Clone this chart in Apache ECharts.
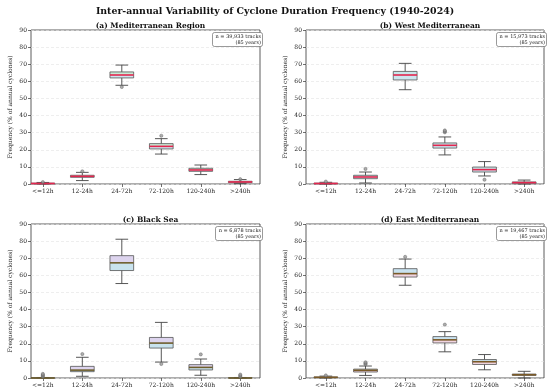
<!DOCTYPE html>
<html><head><meta charset="utf-8">
<script src="https://cdn.jsdelivr.net/npm/echarts@6/dist/echarts.min.js"></script>
<style>html,body{margin:0;padding:0;background:#fff}#c{width:550px;height:392px}</style>
</head><body><div id="c"></div>
<script>
const categories = ['<=12h','12-24h','24-72h','72-120h','120-240h','>240h'];
const yTicks = [0,10,20,30,40,50,60,70,80,90];
const panelTitles = ['(a) Mediterranean Region','(b) West Mediterranean','(c) Black Sea','(d) East Mediterranean'];
const nTracks = ['39,933','15,973','6,878','19,467'];
// [min, q1, median, q3, max]
const medStats = [[0,0.1,0.3,0.5,0.9],[2.0,3.9,4.5,5.1,6.8],[57.7,62.0,63.7,65.5,69.5],[17.5,20.5,22.0,23.6,26.5],[5.5,7.4,8.2,9.2,11.1],[0.2,0.8,1.2,1.6,2.6]];
const medOutliers = [[1,1.1],[2,7.4],[3,56.7],[4,28.2],[6,2.8]];
const westStats = [[0,0.1,0.3,0.5,1.0],[0.6,3.1,4.1,5.1,7.0],[55.1,60.8,63.7,65.8,70.5],[17.0,21.0,22.6,24.0,27.5],[4.7,7.0,8.4,9.9,13.1],[0,0.2,0.8,1.2,2.3]];
const westOutliers = [[1,1.4],[2,8.8],[4,30.2],[4,30.8],[4,31.3],[5,2.5]];
const blackStats = [[0,0,0,0.1,0.3],[1.0,3.7,4.6,6.8,12.1],[55.2,62.8,67.3,71.5,81.1],[9.3,17.5,20.4,23.7,32.5],[1.6,4.7,6.2,7.8,11.1],[0,0,0,0.1,0.3]];
const blackOutliers = [[1,0.8],[1,1.3],[1,1.8],[1,2.4],[2,14.0],[4,8.2],[5,13.8],[6,0.8],[6,1.4],[6,2.0]];
const eastStats = [[0,0.2,0.4,0.6,1.1],[1.5,3.5,4.5,5.2,7.0],[54.2,59.0,61.0,63.9,69.5],[15.3,20.5,22.3,24.2,27.1],[4.8,7.9,9.5,10.8,13.7],[0,1.5,1.9,2.3,3.9]];
const eastOutliers = [[1,1.5],[2,8.0],[2,8.6],[2,9.2],[3,70.8],[4,31.2]];

const allStats = [medStats, westStats, blackStats, eastStats];
const allOutliers = [medOutliers, westOutliers, blackOutliers, eastOutliers];
const style = [
  {hi:'#c9ebd6', lo:'#cfe5ee', med:'#e3264f'},
  {hi:'#c8e7ea', lo:'#cde6ef', med:'#e3264f'},
  {hi:'#ddd4ee', lo:'#c9e3ee', med:'#6e5e2c'},
  {hi:'#c9e2ef', lo:'#f1d5e1', med:'#7a5a28'}
];
const grids = [
  {left:31, top:30, width:229, height:154, xmin:0.7, xmax:6.5},
  {left:306, top:30, width:238, height:154, xmin:0.5, xmax:6.5},
  {left:31, top:224, width:229, height:154, xmin:0.7, xmax:6.5},
  {left:306, top:224, width:238, height:154, xmin:0.5, xmax:6.5}
];
const FONT = 'DejaVu Serif';
const chart = echarts.init(document.getElementById('c'), null, {renderer:'canvas'});

const option = {
  backgroundColor:'#fff',
  animation:false,
  title: [{text:'Inter-annual Variability of Cyclone Duration Frequency (1940-2024)', left:'center', top:2,
    textStyle:{fontFamily:FONT, fontWeight:'bold', fontSize:9.4, color:'#111'}}],
  grid: [], xAxis: [], yAxis: [], series: []
};
const xs = [1,2,3,4,5,6];
grids.forEach((g,i)=>{
  option.grid.push({left:g.left, top:g.top, width:g.width, height:g.height, show:true, borderColor:'#333', borderWidth:0.8, backgroundColor:'transparent'});
  option.title.push({text:panelTitles[i], left:g.left+g.width/2, top:g.top-13, textAlign:'center',
    textStyle:{fontFamily:FONT, fontWeight:'bold', fontSize:7.5, color:'#111'}});
  option.title.push({text:'n = '+nTracks[i]+' tracks\n(85 years)', left:g.left+g.width-2, top:g.top+2, textAlign:'right',
    borderColor:'#555', borderWidth:0.6, borderRadius:2, padding:[2,2,1,3], backgroundColor:'#fff',
    textStyle:{fontFamily:FONT, fontSize:5, color:'#222', lineHeight:6, fontWeight:'normal'}});
  option.xAxis.push({type:'value', gridIndex:i, min:g.xmin, max:g.xmax,
    axisLine:{show:false}, splitLine:{show:false},
    axisTick:{show:true, customValues:xs, length:3, lineStyle:{color:'#333', width:0.7}},
    axisLabel:{customValues:xs, formatter:v=>categories[Math.round(v)-1], fontFamily:FONT, fontSize:6, color:'#222', margin:4}});
  option.yAxis.push({type:'value', gridIndex:i, min:0, max:90, interval:10,
    name:'Frequency (% of annual cyclones)', nameLocation:'middle', nameGap:18,
    nameTextStyle:{fontFamily:FONT, fontSize:6, color:'#222'},
    axisLine:{show:false}, axisTick:{show:true, length:3, lineStyle:{color:'#333', width:0.7}},
    axisLabel:{fontFamily:FONT, fontSize:6, color:'#222', margin:4},
    splitLine:{show:true, lineStyle:{color:'#e2e2e2', width:0.6, type:[3,2]}}});
  const st = style[i];
  option.series.push({type:'custom', xAxisIndex:i, yAxisIndex:i,
    data: allStats[i].map((s,k)=>[k+1].concat(s)),
    encode:{x:0, y:[1,2,3,4,5]},
    renderItem:(params, api)=>{
      const x = api.value(0);
      const pMin = api.coord([x, api.value(1)]);
      const pQ1 = api.coord([x, api.value(2)]);
      const pMed = api.coord([x, api.value(3)]);
      const pQ3 = api.coord([x, api.value(4)]);
      const pMax = api.coord([x, api.value(5)]);
      const bw = api.size([0.6, 0])[0];
      const cw = api.size([0.32, 0])[0];
      const cx = pMed[0];
      const l = cx - bw/2;
      const edge = {stroke:'#555', lineWidth:0.8, fill:null};
      const wl = {stroke:'#444', lineWidth:0.9};
      return {type:'group', children:[
        {type:'rect', shape:{x:l, y:pMed[1], width:bw, height:pQ1[1]-pMed[1]}, style:{fill:st.lo}},
        {type:'rect', shape:{x:l, y:pQ3[1], width:bw, height:pMed[1]-pQ3[1]}, style:{fill:st.hi}},
        {type:'line', shape:{x1:cx, y1:pQ3[1], x2:cx, y2:pMax[1]}, style:wl},
        {type:'line', shape:{x1:cx, y1:pQ1[1], x2:cx, y2:pMin[1]}, style:wl},
        {type:'line', shape:{x1:cx-cw/2, y1:pMax[1], x2:cx+cw/2, y2:pMax[1]}, style:wl},
        {type:'line', shape:{x1:cx-cw/2, y1:pMin[1], x2:cx+cw/2, y2:pMin[1]}, style:wl},
        {type:'rect', shape:{x:l, y:pQ3[1], width:bw, height:pQ1[1]-pQ3[1]}, style:edge},
        {type:'line', shape:{x1:l, y1:pMed[1], x2:l+bw, y2:pMed[1]}, style:{stroke:st.med, lineWidth:1.6}}
      ]};
    }, z:3});
  option.series.push({type:'scatter', xAxisIndex:i, yAxisIndex:i, data:allOutliers[i], symbol:'circle', symbolSize:3.2,
    itemStyle:{color:'#999', borderColor:'#555', borderWidth:0.5}, z:4});
});
chart.setOption(option);
</script></body></html>
